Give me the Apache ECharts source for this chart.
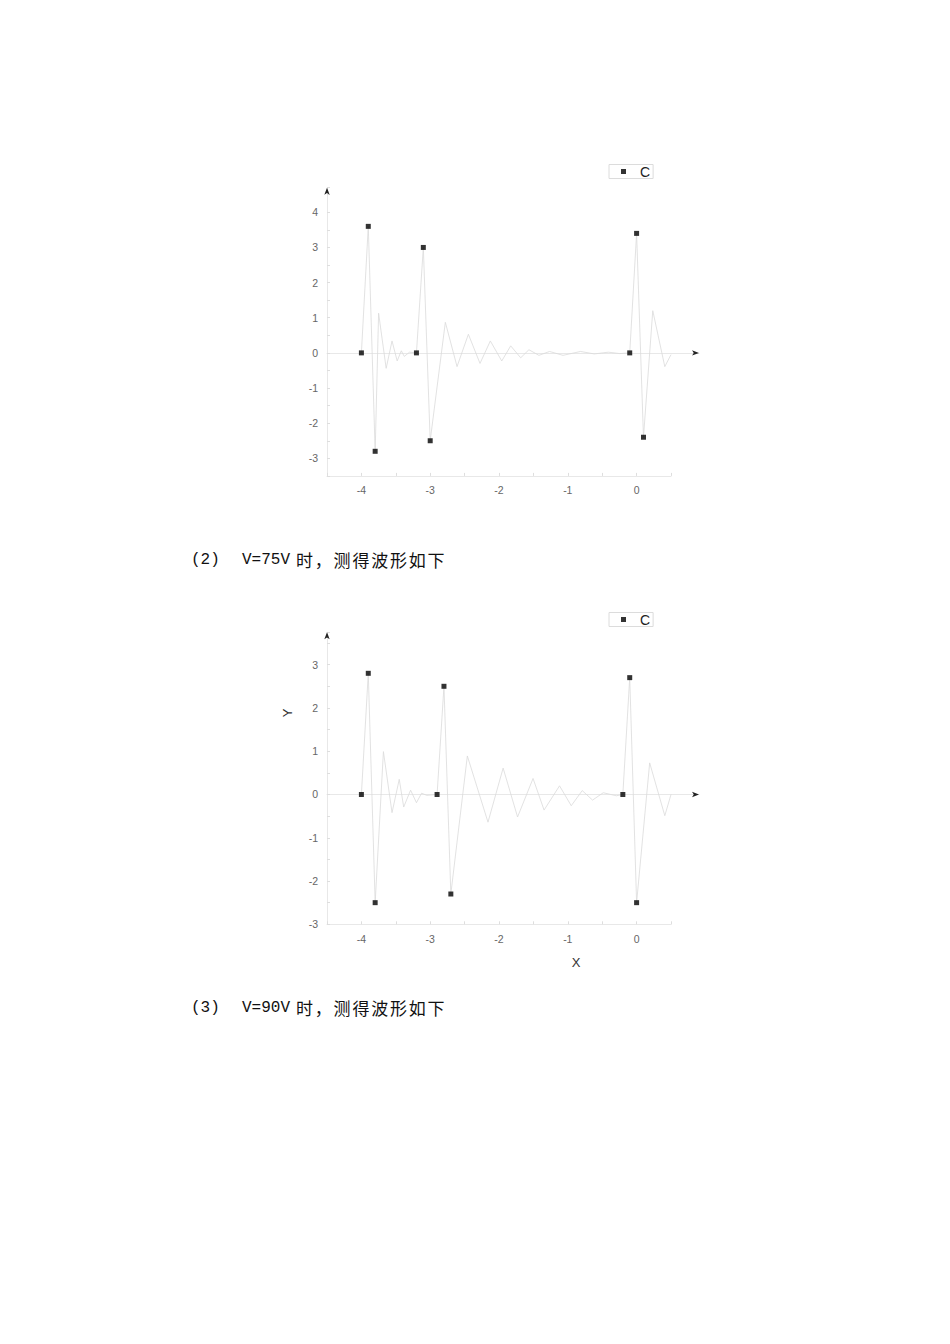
<!DOCTYPE html>
<html>
<head>
<meta charset="utf-8">
<script src="https://cdn.jsdelivr.net/npm/echarts@6/dist/echarts.min.js"></script>
<style>
html,body{margin:0;padding:0;background:#fff;}
#chart{position:absolute;left:0;top:0;width:950px;height:1344px;}
.para{position:absolute;left:0;width:950px;height:20px;color:#111;}
.para span{position:absolute;top:0;line-height:20px;white-space:pre;}
.mono{font-family:'Liberation Mono','DejaVu Sans Mono',monospace;font-size:16px;}
.cjk{font-family:'Noto Sans CJK SC',sans-serif;font-size:17px;letter-spacing:1.8px;}
</style>
</head>
<body>
<div id="chart"></div>
<div class="para" style="top:550px"><span class="mono" style="left:191px">(2)</span><span class="mono" style="left:242px">V=75V</span><span class="cjk" style="left:296px">时，测得波形如下</span></div>
<div class="para" style="top:998px"><span class="mono" style="left:191px">(3)</span><span class="mono" style="left:242px">V=90V</span><span class="cjk" style="left:296px">时，测得波形如下</span></div>
<script>
// ---------- data: upper chart ----------
const wave1X = [-4,-3.9,-3.8,-3.75,-3.64,-3.555,-3.48,-3.42,-3.377,-3.3,-3.2,-3.1,-3.0,-2.78,-2.61,-2.445,-2.276,-2.126,-1.96,-1.83,-1.685,-1.565,-1.42,-1.265,-1.07,-0.815,-0.615,-0.41,-0.245,-0.1,0,0.1,0.235,0.41,0.5];
const wave1Y = [0,3.6,-2.8,1.13,-0.44,0.34,-0.23,0.06,-0.1,0.02,0,3.0,-2.5,0.87,-0.39,0.53,-0.3,0.34,-0.23,0.2,-0.14,0.09,-0.07,0.04,-0.07,0.04,-0.03,0.02,-0.02,0,3.4,-2.4,1.2,-0.39,-0.05];
const mark1X = [-4,-3.9,-3.8,-3.2,-3.1,-3.0,-0.1,0,0.1];
const mark1Y = [0,3.6,-2.8,0,3.0,-2.5,0,3.4,-2.4];
// ---------- data: lower chart ----------
const wave2X = [-4,-3.9,-3.8,-3.68,-3.555,-3.45,-3.385,-3.285,-3.2,-3.125,-3.05,-2.9,-2.8,-2.7,-2.46,-2.16,-1.94,-1.73,-1.505,-1.345,-1.12,-0.95,-0.79,-0.64,-0.485,-0.295,-0.2,-0.1,0,0.19,0.41,0.5];
const wave2Y = [0,2.8,-2.5,0.99,-0.42,0.35,-0.29,0.1,-0.19,0.03,-0.02,0,2.5,-2.3,0.89,-0.64,0.61,-0.52,0.37,-0.36,0.2,-0.26,0.09,-0.13,0.04,-0.03,0,2.7,-2.5,0.73,-0.49,0];
const mark2X = [-4,-3.9,-3.8,-2.9,-2.8,-2.7,-0.2,-0.1,0];
const mark2Y = [0,2.8,-2.5,0,2.5,-2.3,0,2.7,-2.5];
const seriesName = 'C';
const xAxisName = 'X';
const yAxisName = 'Y';

const zip = (xs, ys) => xs.map((x, i) => [x, ys[i]]);

const AXIS_LIGHT = '#e8e8e8';
const LABEL = {color:'#666', fontSize:10.5, fontFamily:'Liberation Sans, Arial, sans-serif',
  formatter: v => (Math.abs(v - Math.round(v)) < 1e-9 ? String(Math.round(v)) : '')};

function chartParts(gi, top, height, yMin, yMax) {
  const grids = [
    {left:327, top:top, width:344, height:height, outerBoundsMode:'none'},
    {left:327, top:top, width:372, height:height, outerBoundsMode:'none'},
    {left:327, top:top, width:372, height:height, outerBoundsMode:'none'}
  ];
  const xMaxWide = -4.5 + 372 / 68.8;
  const xAxes = [
    {type:'value', gridIndex:gi, min:-4.5, max:0.5, interval:0.5,
     axisLine:{show:true, onZero:false, lineStyle:{color:AXIS_LIGHT, width:1}},
     axisTick:{show:true, inside:true, length:3, lineStyle:{color:'#dedede'}},
     axisLabel:Object.assign({margin:9}, LABEL), splitLine:{show:false}},
    {type:'value', gridIndex:gi+1, min:-4.5, max:xMaxWide,
     axisLine:{show:true, onZero:true, lineStyle:{color:AXIS_LIGHT, width:1}},
     axisTick:{show:false}, axisLabel:{show:false}, splitLine:{show:false}},
    {type:'value', gridIndex:gi+2, min:-4.5, max:xMaxWide,
     axisLine:{show:true, onZero:true, symbol:['none','arrow'], symbolSize:[4,7],
       lineStyle:{color:'#222', width:1, opacity:0}},
     axisTick:{show:false}, axisLabel:{show:false}, splitLine:{show:false}}
  ];
  const yAxes = [
    {type:'value', gridIndex:gi, min:yMin, max:yMax, interval:0.5,
     axisLine:{show:true, onZero:false, lineStyle:{color:AXIS_LIGHT, width:1}},
     axisTick:{show:true, inside:true, length:3, lineStyle:{color:'#dedede'}},
     axisLabel:Object.assign({margin:9}, LABEL), splitLine:{show:false}},
    {type:'value', gridIndex:gi+1, min:yMin, max:yMax, show:false, splitLine:{show:false}},
    {type:'value', gridIndex:gi+2, min:yMin, max:yMax,
     axisLine:{show:true, onZero:false, symbol:['none','arrow'], symbolSize:[4,7],
       lineStyle:{color:'#222', width:1, opacity:0}},
     axisTick:{show:false}, axisLabel:{show:false}, splitLine:{show:false}}
  ];
  return {grids, xAxes, yAxes};
}

const c1 = chartParts(0, 187.7, 288.2, -3.5, 4.7);
const c2 = chartParts(3, 632.2, 292.1, -3, 3.75);

const legendCommon = {
  orient:'horizontal', data:[seriesName], itemWidth:5, itemHeight:5,
  borderColor:'#dcdcdc', borderWidth:1, padding:[0,3,0,12],
  textStyle:{color:'#222', fontSize:14, fontFamily:'Liberation Sans, Arial, sans-serif', padding:[0,0,0,9]},
  selectedMode:false
};

const option = {
  animation:false,
  backgroundColor:'#fff',
  grid:[...c1.grids, ...c2.grids],
  xAxis:[...c1.xAxes, ...c2.xAxes],
  yAxis:[...c1.yAxes, ...c2.yAxes],
  legend:[
    Object.assign({left:609, top:164.5}, legendCommon),
    Object.assign({left:609, top:612.5}, legendCommon)
  ],
  series:[
    {type:'line', name:'wave1', xAxisIndex:0, yAxisIndex:0, data:zip(wave1X, wave1Y),
     showSymbol:false, symbol:'none', silent:true, lineStyle:{color:'#dadada', width:0.8}, z:1},
    {type:'scatter', name:seriesName, xAxisIndex:0, yAxisIndex:0, data:zip(mark1X, mark1Y),
     symbol:'rect', symbolSize:5, itemStyle:{color:'#000'}, z:3},
    {type:'line', name:'wave2', xAxisIndex:3, yAxisIndex:3, data:zip(wave2X, wave2Y),
     showSymbol:false, symbol:'none', silent:true, lineStyle:{color:'#dadada', width:0.8}, z:1},
    {type:'scatter', name:seriesName, xAxisIndex:3, yAxisIndex:3, data:zip(mark2X, mark2Y),
     symbol:'rect', symbolSize:5, itemStyle:{color:'#000'}, z:3}
  ],
  graphic:[
    {type:'text', x:576, y:962, style:{text:xAxisName, fontSize:13, fontFamily:'Liberation Sans, Arial, sans-serif', fill:'#333', align:'center', verticalAlign:'middle'}},
    {type:'text', x:287, y:713, rotation:Math.PI/2, style:{text:yAxisName, fontSize:13, fontFamily:'Liberation Sans, Arial, sans-serif', fill:'#333', align:'center', verticalAlign:'middle'}}
  ]
};

const chart = echarts.init(document.getElementById('chart'), null, {renderer:'svg', width:950, height:1344});
chart.setOption(option);
</script>
</body>
</html>
